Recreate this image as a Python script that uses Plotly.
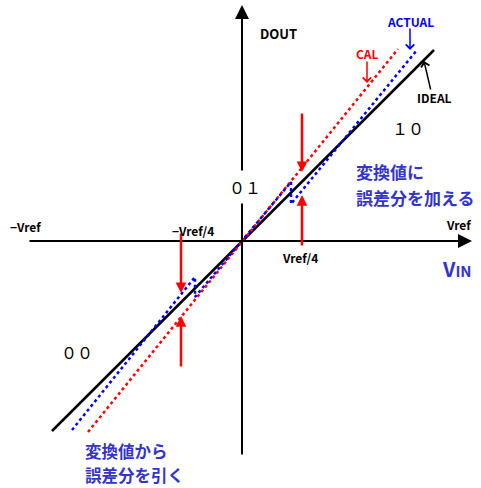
import plotly.graph_objects as go

# ---- data (units: pixel offsets from the origin of the transfer curve) ----
ideal_x = [-190, 192]
ideal_y = [-190, 191]
cal_x = [-154, 156]
cal_y = [-191, 192]
actual_x = [-170, -47, -47, 0, 49, 49, 175]
actual_y = [-189, -36, -56, 0, 59, 37, 191]

region_codes = ["００", "０１", "１０"]
region_x = [-165, 3, 166]
region_y = [-111, 54, 113]

axis_labels = ["−Vref", "−Vref/4", "Vref/4", "Vref"]
axis_label_x = [-217, -49, 58, 216]
axis_label_y = [15, 11, -16, 17]

corr_arrow_x = [60, 60, -61, -61]
corr_arrow_tail_y = [129, -6, 9, -127]
corr_arrow_tip_y = [69, 46, -52, -75]

series_names = ["CAL", "ACTUAL", "IDEAL"]
series_colors = ["#ff0000", "#0000ff", "#000000"]
series_label_x = [125, 168, 192]
series_label_y = [188, 220, 144]
series_arrow_tail = [(125, 181), (168, 214), (189, 150)]
series_arrow_tip = [(125, 158), (168, 191), (182, 180)]

note_add = ["変換値に", "誤差分を加える"]
note_add_x = 112
note_add_y = [70, 44]
note_sub = ["変換値から", "誤差分を引く"]
note_sub_x = -159
note_sub_y = [-210, -234]

JP = "Noto Sans CJK JP"
NOTE_COLOR = "#3434c8"

fig = go.Figure()
fig.add_trace(go.Scatter(x=ideal_x, y=ideal_y, mode="lines",
                         line=dict(color="#000000", width=2.5), hoverinfo="skip"))
fig.add_trace(go.Scatter(x=cal_x, y=cal_y, mode="lines",
                         line=dict(color="#ff0000", width=2.5, dash="3px,3px"), hoverinfo="skip"))
fig.add_trace(go.Scatter(x=actual_x, y=actual_y, mode="lines",
                         line=dict(color="#0000ff", width=2.5, dash="3px,3px"), hoverinfo="skip"))

ann = []
# axes with arrowheads
ann.append(dict(x=230, y=0, ax=-214, ay=0, xref="x", yref="y", axref="x", ayref="y",
                text="", showarrow=True, arrowhead=2, arrowwidth=2, arrowsize=1.4,
                arrowcolor="#000000"))
ann.append(dict(x=0, y=236, ax=0, ay=-215, xref="x", yref="y", axref="x", ayref="y",
                text="", showarrow=True, arrowhead=2, arrowwidth=2, arrowsize=1.4,
                arrowcolor="#000000"))

# red correction arrows
for xa, yt, yh in zip(corr_arrow_x, corr_arrow_tail_y, corr_arrow_tip_y):
    ann.append(dict(x=xa, y=yh, ax=xa, ay=yt, xref="x", yref="y", axref="x", ayref="y",
                    text="", showarrow=True, arrowhead=2, arrowwidth=2.5, arrowsize=0.85,
                    arrowcolor="#ff0000"))

# series labels with small arrows
for name, col, lx, ly, tail, tip in zip(series_names, series_colors, series_label_x,
                                        series_label_y, series_arrow_tail, series_arrow_tip):
    ann.append(dict(x=tip[0], y=tip[1], ax=tail[0], ay=tail[1], xref="x", yref="y",
                    axref="x", ayref="y", text="", showarrow=True, arrowhead=4,
                    arrowwidth=1.5, arrowsize=1.1, arrowcolor=col))
    ann.append(dict(x=lx, y=ly, xref="x", yref="y", text=name, showarrow=False,
                    font=dict(family=JP, size=12, color=col, weight="bold")))

# axis labels
for t, lx, ly in zip(axis_labels, axis_label_x, axis_label_y):
    ann.append(dict(x=lx, y=ly, xref="x", yref="y", text=t, showarrow=False,
                    font=dict(family=JP, size=12, color="#000000", weight="bold")))

ann.append(dict(x=16, y=208, xref="x", yref="y", text="DOUT", showarrow=False,
                xanchor="left", font=dict(family=JP, size=13, color="#000000", weight="bold")))
ann.append(dict(x=215, y=-27, xref="x", yref="y",
                text="V<span style='font-size:15px'>IN</span>", showarrow=False,
                font=dict(family=JP, size=20, color=NOTE_COLOR, weight="bold")))

# region codes
for t, lx, ly in zip(region_codes, region_x, region_y):
    ann.append(dict(x=lx, y=ly, xref="x", yref="y", text=t, showarrow=False,
                    bgcolor="#ffffff" if t == "０１" else None, borderpad=4,
                    font=dict(family=JP, size=16, color="#000000")))

# explanatory notes
for t, ly in zip(note_add, note_add_y):
    ann.append(dict(x=note_add_x, y=ly, xref="x", yref="y", text=t, showarrow=False,
                    xanchor="left", font=dict(family=JP, size=17, color=NOTE_COLOR, weight="bold")))
for t, ly in zip(note_sub, note_sub_y):
    ann.append(dict(x=note_sub_x, y=ly, xref="x", yref="y", text=t, showarrow=False,
                    xanchor="left", font=dict(family=JP, size=16.5, color=NOTE_COLOR, weight="bold")))

fig.update_layout(
    width=481, height=488, margin=dict(l=0, r=0, t=0, b=0),
    paper_bgcolor="#ffffff", plot_bgcolor="#ffffff", showlegend=False,
    xaxis=dict(range=[-242, 239], visible=False, fixedrange=True),
    yaxis=dict(range=[-247, 241], visible=False, fixedrange=True),
    annotations=ann,
)
fig.write_html("out.html", config={"displayModeBar": False},
               post_script="document.body.style.margin='0px';document.body.style.overflow='hidden';")
